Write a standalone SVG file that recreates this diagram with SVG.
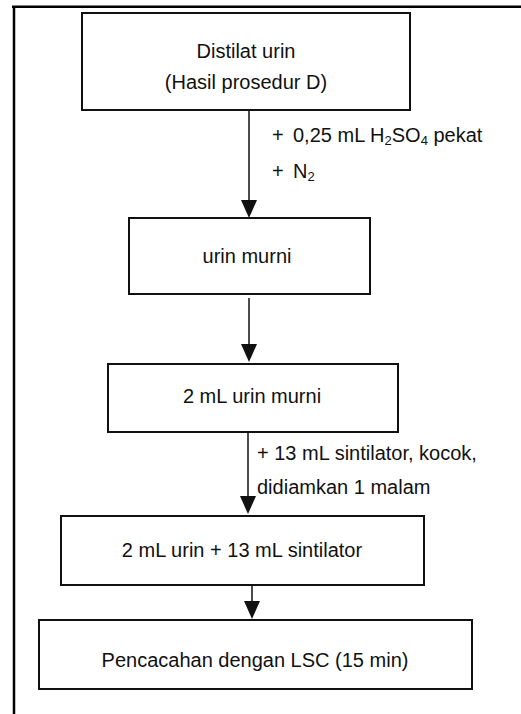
<svg xmlns="http://www.w3.org/2000/svg" width="521" height="714" viewBox="0 0 521 714">
<style>
.box{fill:#fff;stroke:#111;stroke-width:2}
.t{font-family:"Liberation Sans",Arial,sans-serif;font-size:20px;fill:#111}
.c{text-anchor:middle}
.ln{stroke:#111;stroke-width:1.5;fill:none}
.frame{stroke:#000;stroke-width:2.5;fill:none}
</style>
<defs>
<marker id="ah" viewBox="0 0 16 18" refX="8" refY="18" markerWidth="16" markerHeight="18" markerUnits="userSpaceOnUse" orient="auto-start-reverse">
<path d="M0,0 L16,0 L8,18 Z" fill="#111"/>
</marker>
</defs>
<rect width="521" height="714" fill="#fff"/>
<g id="frame">
<path class="frame" d="M12,6.7 H521 M14,6 V714"/>
</g>
<g id="connectors">
<line class="ln" x1="249" y1="110" x2="249" y2="200"/>
<path d="M241,200 L257,200 L249,218 Z" fill="#111"/>
<line class="ln" x1="249" y1="298" x2="249" y2="344"/>
<path d="M241,344 L257,344 L249,362 Z" fill="#111"/>
<line class="ln" x1="248" y1="430" x2="248" y2="496"/>
<path d="M240,496 L256,496 L248,514 Z" fill="#111"/>
<line class="ln" x1="252" y1="585" x2="252" y2="601"/>
<path d="M244,601 L260,601 L252,619 Z" fill="#111"/>
<text class="t" y="142"><tspan x="272">+</tspan><tspan x="293">0,25 mL H</tspan><tspan font-size="13" dy="3">2</tspan><tspan dy="-3">SO</tspan><tspan font-size="13" dy="3">4</tspan><tspan dy="-3"> pekat</tspan></text>
<text class="t" y="178"><tspan x="272">+</tspan><tspan x="293">N</tspan><tspan font-size="13" dy="3">2</tspan></text>
<text class="t" x="257" y="460">+ 13 mL sintilator, kocok,</text>
<text class="t" x="257" y="494">didiamkan 1 malam</text>
</g>
<g id="n1">
<rect class="box" x="82" y="13" width="328" height="97"/>
<text class="t c" x="246" y="58">Distilat urin</text>
<text class="t c" x="246" y="89">(Hasil prosedur D)</text>
</g>
<g id="n2">
<rect class="box" x="129" y="218" width="241" height="76"/>
<text class="t c" x="247" y="263">urin murni</text>
</g>
<g id="n3">
<rect class="box" x="108" y="364" width="290" height="68"/>
<text class="t c" x="252" y="403">2 mL urin murni</text>
</g>
<g id="n4">
<rect class="box" x="61" y="516" width="363" height="69"/>
<text class="t c" x="242" y="557">2 mL urin + 13 mL sintilator</text>
</g>
<g id="n5">
<rect class="box" x="39" y="620" width="433" height="69"/>
<text class="t c" x="255" y="667">Pencacahan dengan LSC (15 min)</text>
</g>
</svg>
